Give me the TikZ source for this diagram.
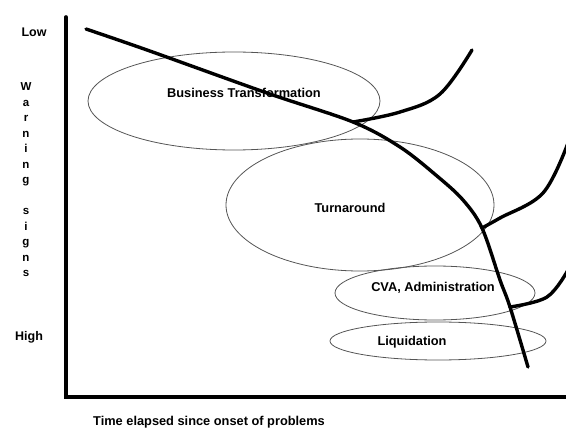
\documentclass[tikz,border=0pt]{standalone}
\usepackage{fontspec}
\setmainfont{Liberation Sans}
\usepackage{tkz-euclide}
\definecolor{OvalClr}{RGB}{85,85,85}
\tikzset{oval/.style={draw=OvalClr,line width=0.8pt},
  lbl/.style={font=\bfseries\fontsize{12.8}{14}\selectfont,inner sep=0pt},
  curve/.style={line width=3.4pt,line cap=round,line join=round}}

\begin{document}
\begin{tikzpicture}[x=1pt,y=-1pt]
\useasboundingbox (0,0) rectangle (566,428);
\tkzSetUpLine[line width=3.6pt,color=black]

\tkzDefPoints{66/17/Top,66/397/O,566/397/Right}
\tkzDefPoints{86/29/P0,147/50/P1,267/93/P2,353/122/P3,400/147/P4,437/176/P5,463/200/P6,482/228/P7,500/280/P8,510/307/P9,528/367/P10}
\tkzDefPoints{400/112/A1,440/94/A2,472/50/A3}
\tkzDefPoints{500/218/B1,543/193/B2,568/143/B3}
\tkzDefPoints{547/297/C1,568/270/C2}

% the four ovals
\draw[oval] (234,101) ellipse [x radius=146pt, y radius=49pt];
\draw[oval] (360,205) ellipse [x radius=134pt, y radius=66pt];
\draw[oval] (435,293) ellipse [x radius=100pt, y radius=27pt];
\draw[oval] (438,341) ellipse [x radius=108pt, y radius=19pt];

\node[lbl] (bt) at (244,93) {Business Transformation};
\node[lbl] (ta) at (350,208) {Turnaround};
\node[lbl] (cva) at (433,288) {CVA, Administration};
\node[lbl] (liq) at (412,342) {Liquidation};

% axes
\tkzDrawPolySeg(Top,O,Right)

\node[lbl,font=\bfseries\fontsize{12.5}{14}\selectfont] (low) at (34,32) {Low};
\node[lbl,font=\bfseries\fontsize{12.5}{14}\selectfont] (high) at (29,337) {High};
\node[lbl,align=center,font=\bfseries\fontsize{11.5}{15.5}\selectfont] (warn) at (26,180)
  {W\\a\\r\\n\\i\\n\\g\\[15.5pt]s\\i\\g\\n\\s};
\node[lbl,anchor=west] (time) at (93,422) {Time elapsed since onset of problems};

% decline curve and its branches
\draw[curve] plot[smooth,tension=0.55] coordinates {(P0) (P1) (P2) (P3) (P4) (P5) (P6) (P7) (P8) (P9) (P10)};
\draw[curve] plot[smooth,tension=0.6] coordinates {(P3) (A1) (A2) (A3)};
\draw[curve] plot[smooth,tension=0.6] coordinates {(P7) (B1) (B2) (B3)};
\draw[curve] plot[smooth,tension=0.6] coordinates {(P9) (C1) (C2)};

\end{tikzpicture}
\end{document}
